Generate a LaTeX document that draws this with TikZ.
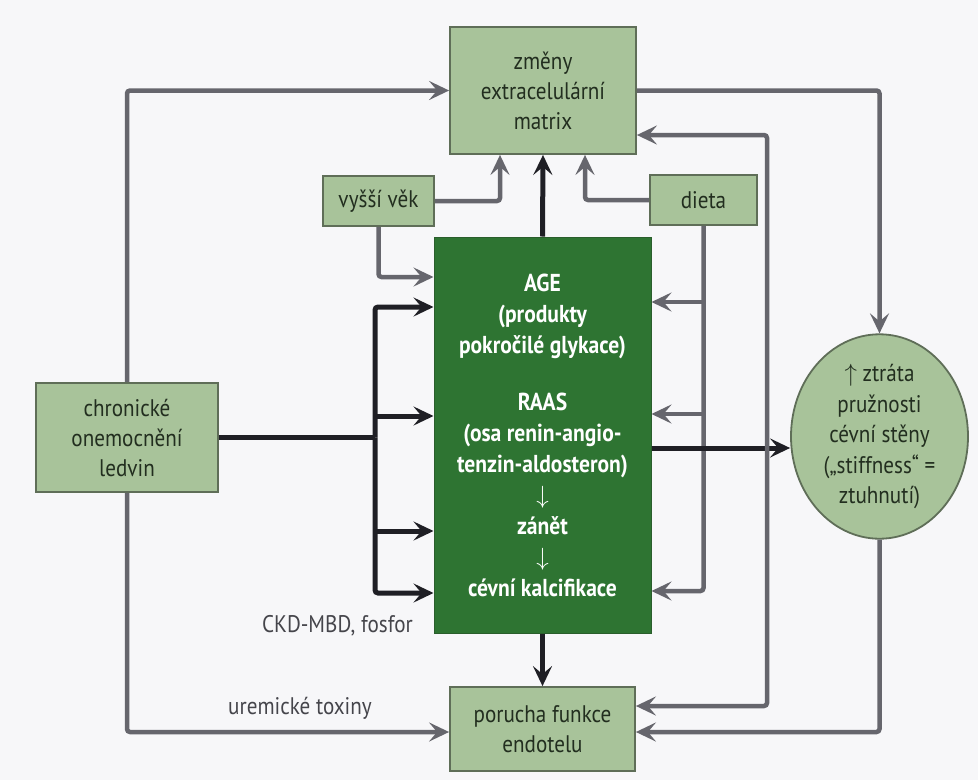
\documentclass[tikz,border=0pt]{standalone}
\usepackage{fontspec}
\setmainfont{PT Sans}[FakeStretch=0.88]
\usetikzlibrary{arrows.meta,calc,shapes.geometric}
\definecolor{bg}{HTML}{F7F7F9}
\definecolor{lightg}{HTML}{A8C39A}
\definecolor{lightbd}{HTML}{5F6E58}
\definecolor{darkg}{HTML}{2E7432}
\definecolor{darkbd}{HTML}{2A5E2C}
\definecolor{txtg}{HTML}{222E1F}
\definecolor{arrgray}{HTML}{66666D}
\definecolor{arrblk}{HTML}{1F1F25}
\definecolor{lbl}{HTML}{45454B}
\begin{document}
\begin{tikzpicture}[x=1pt,y=-1pt,
  lbox/.style={draw=lightbd, line width=1.8pt, fill=lightg, text=txtg, align=center,
    inner sep=0pt, font=\fontsize{24}{30}\selectfont},
  dbox/.style={draw=darkbd, line width=1pt, fill=darkg, text=white, align=center,
    inner sep=0pt, font=\bfseries\fontsize{24.5}{31}\selectfont},
  roundbox/.style={ellipse, draw=lightbd, line width=1.8pt, fill=lightg, text=txtg,
    align=center, inner sep=0pt, font=\fontsize{24}{30.5}\selectfont},
  lbltext/.style={text=lbl, inner sep=0pt, font=\fontsize{24}{30}\selectfont},
  tipg/.tip={Stealth[length=20pt,width=19pt,inset=8pt]},
  grayline/.style={draw=arrgray, line width=4.5pt, rounded corners=3pt},
  grayarr/.style={grayline, -tipg},
  blkline/.style={draw=arrblk, line width=5pt, rounded corners=3pt},
  blkarr/.style={blkline, -tipg},
]
\fill[bg] (0,0) rectangle (978,780);
\useasboundingbox (0,0) rectangle (978,780);

% nodes
\node[lbox, minimum width=186pt, minimum height=127pt] (ecm) at (543,90.5)
  {změny\\extracelulární\\matrix};
\node[lbox, minimum width=111pt, minimum height=50pt] (age) at (378.5,201) {vyšší věk};
\node[lbox, minimum width=107pt, minimum height=50pt] (dieta) at (703.5,200) {dieta};
\node[lbox, minimum width=182pt, minimum height=109pt] (ckd) at (127,437.5)
  {chronické\\onemocnění\\ledvin};
\node[dbox, minimum width=217pt, minimum height=396pt] (central) at (542.5,435)
  {AGE\\(produkty\\pokročilé glykace)\\[26pt]RAAS\\(osa renin-angio-\\tenzin-aldosteron)\\
   {\mdseries$\downarrow$}\\zánět\\{\mdseries$\downarrow$}\\cévní kalcifikace};
\node[roundbox, minimum width=177pt, minimum height=197pt] (circ) at (879.5,436.5)
  {$\uparrow$ ztráta\\pružnosti\\cévní stěny\\(„stiffness“ =\\ztuhnutí)};
\node[lbox, minimum width=185pt, minimum height=84pt] (endo) at (542.5,729)
  {porucha funkce\\endotelu};

\node[lbltext, anchor=base east] (ckdmbd) at (413,632) {CKD-MBD, fosfor};
\node[lbltext, anchor=base] (urem) at (300,714) {uremické toxiny};

% helper rows / columns
\coordinate (r277) at (0,277);
\coordinate (r302) at (0,302);
\coordinate (r307) at (0,307);
\coordinate (r414) at (0,414);
\coordinate (r416) at (0,416);
\coordinate (r448) at (0,448);
\coordinate (r531) at (0,531);
\coordinate (r591) at (0,591);
\coordinate (r593) at (0,593);
\coordinate (r706) at (0,706);
\coordinate (r732) at (0,732);
\coordinate (c500) at (500,0);
\coordinate (c585) at (585,0);
\coordinate (bus) at (375,437.5);
\coordinate (vtop) at (767,135);
\coordinate (vbot) at (767,706);

% chronic kidney disease connectors
\draw[grayarr] (ckd.north) |- (ecm.west);
\draw[grayarr] (ckd.south) |- (endo.west |- r732);
\draw[blkline] (ckd.east) -- (bus);
\draw[blkarr] (bus) |- (central.west |- r307);
\draw[blkarr] (bus) |- (central.west |- r593);
\draw[blkarr] (bus |- r416) -- (central.west |- r416);
\draw[blkarr] (bus |- r531) -- (central.west |- r531);

% age
\draw[grayarr] (age.east) -| (ecm.south -| c500);
\draw[grayarr] (age.south) |- (central.west |- r277);

% diet
\draw[grayarr] (dieta.west) -| (ecm.south -| c585);
\draw[grayarr] (dieta.south) |- (central.east |- r591);
\draw[grayarr] (dieta.south |- r302) -- (central.east |- r302);
\draw[grayarr] (dieta.south |- r414) -- (central.east |- r414);

% central outputs
\draw[blkarr] (central.north) -- (ecm.south);
\draw[blkarr] (central.south) -- (endo.north);
\draw[blkarr] (central.east |- r448) -- (circ.west |- r448);

% feedback loops
\draw[grayarr] (ecm.east) -| (circ.north);
\draw[grayline, tipg-tipg] (ecm.east |- vtop) -- (vtop) -- (vbot) -- (endo.east |- vbot);
\draw[grayarr] (circ.south) |- (endo.east |- r732);
\end{tikzpicture}
\end{document}
